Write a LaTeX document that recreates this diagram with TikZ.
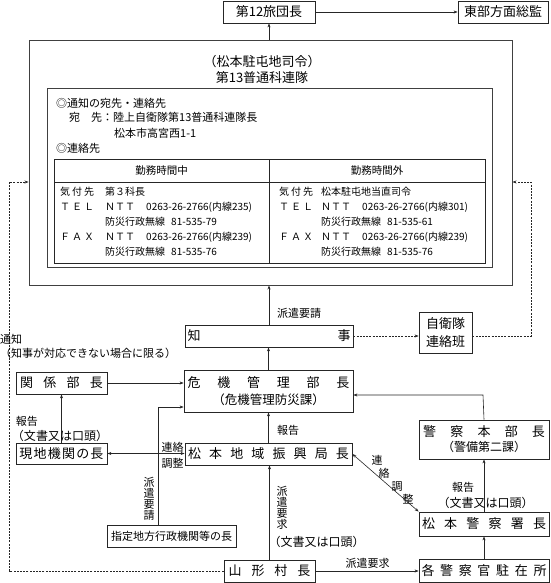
\documentclass[tikz,border=0pt]{standalone}
\usepackage{fontspec}
\setmainfont{Noto Sans CJK JP}
\usetikzlibrary{arrows.meta}
\newcommand{\spr}[2]{\makebox[#1][s]{#2}}
\begin{document}
\begin{tikzpicture}[x=1pt,y=-1pt,
  bx/.style={draw=black!85, line width=0.8pt, inner sep=0pt, align=center, font=\fontsize{13pt}{16.5pt}\selectfont},
  lbl/.style={inner sep=0pt, align=center, font=\fontsize{11pt}{13pt}\selectfont},
  lblb/.style={inner sep=0pt, font=\fontsize{12pt}{14pt}\selectfont},
  vlbl/.style={inner sep=0pt, align=center, font=\fontsize{11pt}{11pt}\selectfont},
  tb/.style={inner sep=0pt, anchor=west, font=\fontsize{10pt}{12pt}\selectfont},
  it/.style={inner sep=0pt, anchor=west, font=\fontsize{11pt}{13pt}\selectfont},
  arr/.style={draw=black!85, line width=0.6pt, -{Stealth[length=4pt,width=3pt]}},
  arrb/.style={draw=black!85, line width=0.6pt, {Stealth[length=4pt,width=3pt]}-{Stealth[length=4pt,width=3pt]}},
  darr/.style={arr, dash pattern=on 2pt off 1.2pt},
  frame/.style={draw=black!75, line width=0.9pt, inner sep=0pt}
]
\useasboundingbox (0,0) rectangle (550,583);

% top boxes
\node[bx, minimum width=92pt, minimum height=22pt] (b12) at (269,12) {第12旅団長};
\node[bx, minimum width=90pt, minimum height=22pt] (east) at (503,12) {東部方面総監};

% outer and inner frames
\node[frame, minimum width=483pt, minimum height=245pt] (outer) at (270.5,162.5) {};
\node[frame, line width=0.8pt, minimum width=445pt, minimum height=179pt] (inner) at (269.5,177.5) {};
\node[inner sep=0pt, align=center, font=\fontsize{13pt}{15.5pt}\selectfont] (ttl) at (262,69.5) {（松本駐屯地司令）\\第13普通科連隊};

\node[it] (i1) at (56,103) {◎通知の宛先・連絡先};
\node[it] (i2) at (69,117) {宛　先：陸上自衛隊第13普通科連隊長};
\node[it] (i3) at (114,133) {松本市高宮西1-1};
\node[it] (i4) at (56,148) {◎連絡先};

% table
\draw[draw=black!85, line width=0.8pt] (54,159) rectangle (485,263);
\draw[draw=black!85, line width=0.8pt] (54,182) -- (485,182);
\draw[draw=black!85, line width=0.8pt] (269,159) -- (269,263);
\node[inner sep=0pt, font=\fontsize{10.5pt}{12pt}\selectfont] (h1) at (161.5,171) {勤務時間中};
\node[inner sep=0pt, font=\fontsize{10.5pt}{12pt}\selectfont] (h2) at (377,171) {勤務時間外};

\node[tb] (l1) at (60,192) {\spr{34pt}{気\hfill 付\hfill 先}};
\node[tb] (v1) at (105,192) {第３科長};
\node[tb] (l2) at (60,207) {\spr{34pt}{Ｔ\hfill Ｅ\hfill Ｌ}};
\node[tb] (v2) at (105,207) {ＮＴＴ\hspace{11pt}0263-26-2766(内線235)};
\node[tb] (v3) at (105,222) {防災行政無線\hspace{6pt}81-535-79};
\node[tb] (l4) at (60,237) {\spr{34pt}{Ｆ\hfill Ａ\hfill Ｘ}};
\node[tb] (v4) at (105,237) {ＮＴＴ\hspace{11pt}0263-26-2766(内線239)};
\node[tb] (v5) at (105,252) {防災行政無線\hspace{6pt}81-535-76};

\node[tb] (r1) at (279,192) {\spr{34pt}{気\hfill 付\hfill 先}};
\node[tb] (w1) at (321,192) {松本駐屯地当直司令};
\node[tb] (r2) at (279,207) {\spr{34pt}{Ｔ\hfill Ｅ\hfill Ｌ}};
\node[tb] (w2) at (321,207) {ＮＴＴ\hspace{11pt}0263-26-2766(内線301)};
\node[tb] (w3) at (321,222) {防災行政無線\hspace{6pt}81-535-61};
\node[tb] (r4) at (279,237) {\spr{34pt}{Ｆ\hfill Ａ\hfill Ｘ}};
\node[tb] (w4) at (321,237) {ＮＴＴ\hspace{11pt}0263-26-2766(内線239)};
\node[tb] (w5) at (321,252) {防災行政無線\hspace{6pt}81-535-76};

% main nodes
\node[bx, minimum width=168pt, minimum height=22pt] (chiji) at (269,336) {\spr{163pt}{知\hfill 事}};
\node[bx, minimum width=53pt, minimum height=41pt, font=\fontsize{13pt}{18pt}\selectfont] (jsdf) at (445.5,332.5) {自衛隊\\連絡班};
\node[bx, minimum width=169pt, minimum height=42pt] (kiki) at (268.5,391) {\spr{162pt}{危\hfill 機\hfill 管\hfill 理\hfill 部\hfill 長}\\{\fontsize{12.5pt}{14pt}\selectfont （危機管理防災課）}};
\node[bx, minimum width=91pt, minimum height=22pt] (kankei) at (61.5,383) {\spr{83pt}{関\hfill 係\hfill 部\hfill 長}};
\node[bx, minimum width=91pt, minimum height=21pt] (genchi) at (61.5,453.5) {\spr{84pt}{現\hfill 地\hfill 機\hfill 関\hfill の\hfill 長}};
\node[bx, minimum width=167pt, minimum height=22pt] (shinko) at (268.5,454) {\spr{161pt}{松\hfill 本\hfill 地\hfill 域\hfill 振\hfill 興\hfill 局\hfill 長}};
\node[bx, minimum width=129pt, minimum height=22pt, font=\fontsize{11pt}{13pt}\selectfont] (shitei) at (171.5,536) {指定地方行政機関等の長};
\node[bx, minimum width=91pt, minimum height=22pt] (yama) at (269.5,571) {\spr{82pt}{山\hfill 形\hfill 村\hfill 長}};
\node[bx, minimum width=130pt, minimum height=39pt, font=\fontsize{13pt}{15pt}\selectfont] (keisatsu) at (484,439.5) {\spr{122pt}{警\hfill 察\hfill 本\hfill 部\hfill 長}\\{\fontsize{12pt}{14pt}\selectfont （警備第二課）}};
\node[bx, minimum width=130pt, minimum height=24pt] (shoucho) at (484,524) {\spr{124pt}{松\hfill 本\hfill 警\hfill 察\hfill 署\hfill 長}};
\node[bx, minimum width=130pt, minimum height=23pt] (chuzai) at (484,570.5) {\spr{125pt}{各\hfill 警\hfill 察\hfill 官\hfill 駐\hfill 在\hfill 所}};

% helper coordinates
\coordinate (rt) at (531,182);
\coordinate (lt) at (9,182);
\coordinate (sc) at (158,407);
\coordinate (kc) at (483,395);

% connectors
\draw[arr] (b12.east) -- (east.west);
\draw[arr] (b12.south |- outer.north) -- (b12.south);
\draw[arr, line width=0.9pt] (chiji.north) -- (chiji.north |- outer.south);
\draw[darr] (chiji.east) -- (chiji.east -| jsdf.west);
\draw[darr] (jsdf.east |- chiji.east) -| (rt) -- (rt -| outer.east);
\draw[darr] (yama.west) -| (lt) -- (lt -| outer.west);
\draw[arr] (kiki.north) -- (kiki.north |- chiji.south);
\draw[arr] (kankei.east) -- (kankei.east -| kiki.west);
\draw[arr] (genchi.north) -- (kankei.south);
\draw[arrb] (genchi.east) -- (genchi.east -| shinko.west);
\draw[arr] (shinko.north) -- (shinko.north |- kiki.south);
\draw[arr] (shitei.north -| sc) -- (sc) -- (sc -| kiki.west);
\draw[arr] (yama.north) -- (yama.north |- shinko.south);
\draw[arr] (yama.east) -- (yama.east -| chuzai.west);
\draw[arr] (chuzai.north) -- (shoucho.south);
\draw[arr] (shoucho.north) -- (keisatsu.south);
\draw[arr] (keisatsu.north) -- (kc) -- (kc -| kiki.east);
\draw[arrb] (shinko.east) -- (shoucho.north west);

% labels
\node[lbl] (la1) at (299,313) {派遣要請};
\node[lbl, anchor=west] (la2) at (0,339) {通知};
\node[lbl, anchor=west] (la3) at (0,353) {（知事が対応できない場合に限る）};
\node[lbl] (la4) at (27,421) {報告};
\node[lblb] (la5) at (60,436) {（文書又は口頭）};
\node[lbl] (la6) at (172.5,447) {連絡};
\node[lbl] (la7) at (172.5,463) {調整};
\node[lbl] (la8) at (288,430) {報告};
\node[vlbl] (la9) at (149,498.5) {派\\遣\\要\\請};
\node[vlbl] (la10) at (282,507.5) {派\\遣\\要\\求};
\node[lbl] (lc1) at (377,460) {連};
\node[lbl] (lc2) at (384,473) {絡};
\node[lbl] (lc3) at (397,487) {調};
\node[lbl] (lc4) at (408,499) {整};
\node[lbl] (la11) at (463,487) {報告};
\node[lblb] (la12) at (485.5,503) {（文書又は口頭）};
\node[lblb] (la13) at (316.5,542) {（文書又は口頭）};
\node[lbl] (la14) at (367.5,563) {派遣要求};
\end{tikzpicture}
\end{document}
